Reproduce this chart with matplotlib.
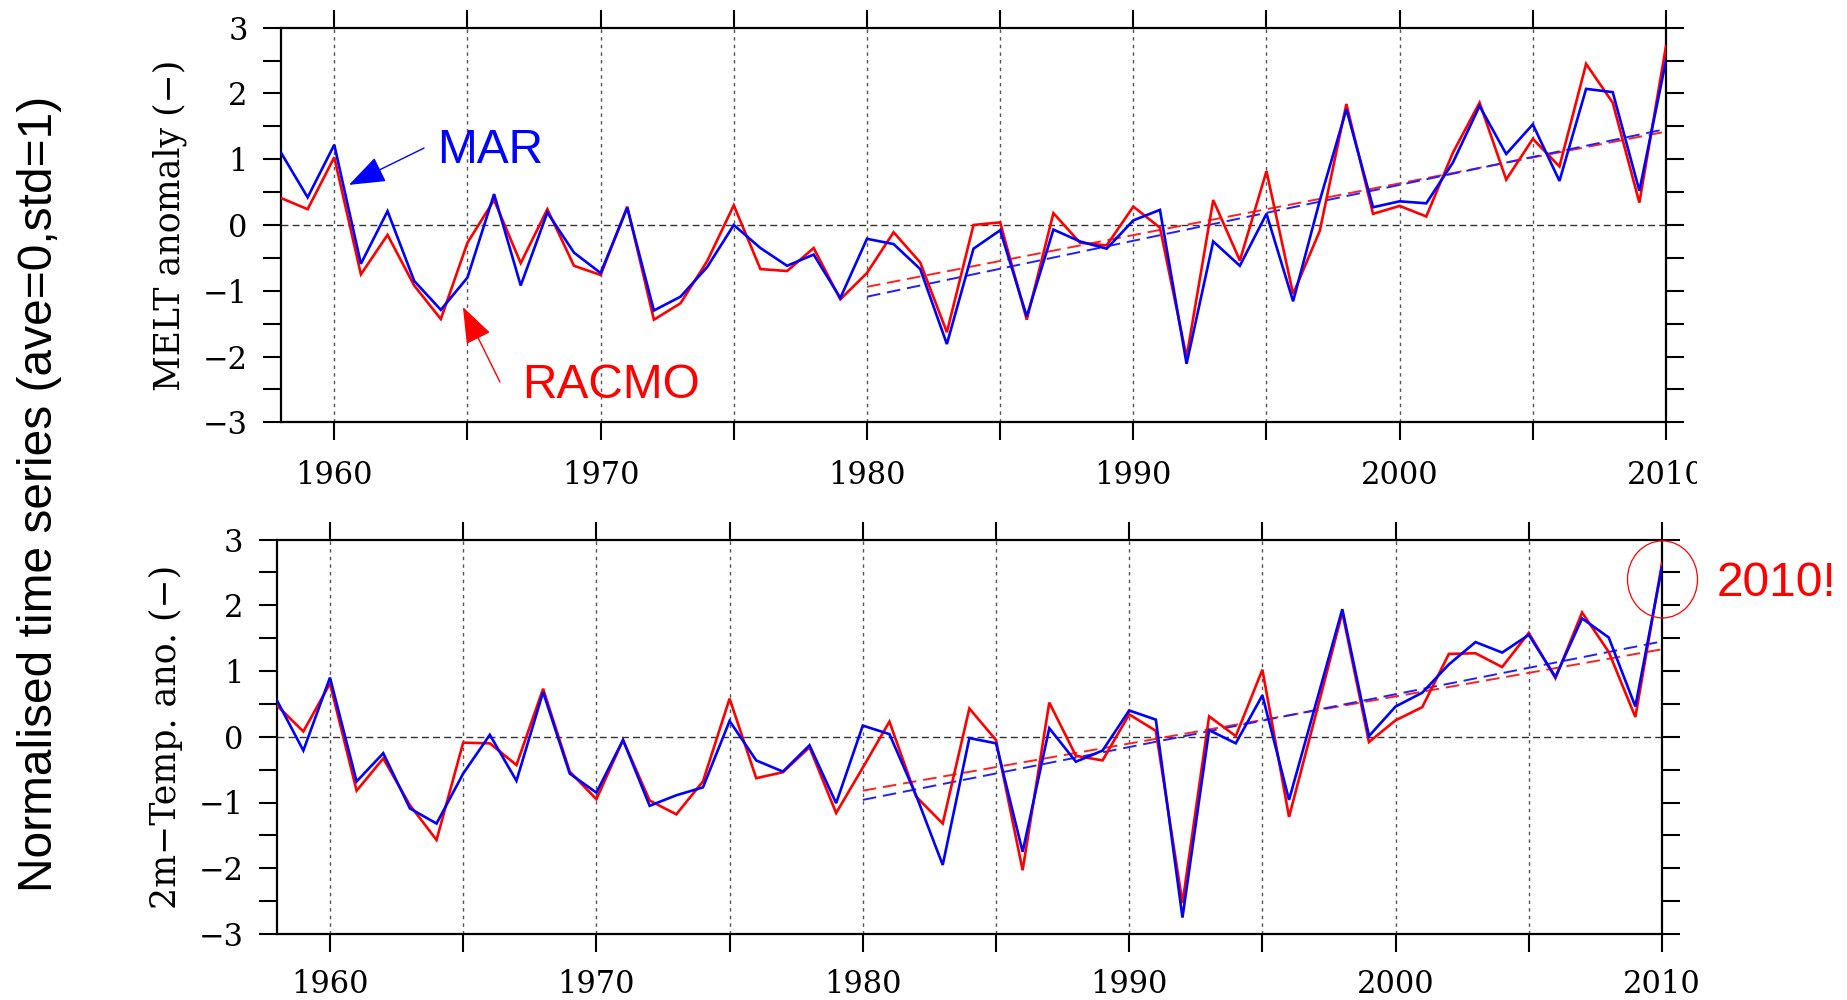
import matplotlib
matplotlib.use('Agg')
import matplotlib.pyplot as plt
import numpy as np
from matplotlib.patches import Ellipse
from matplotlib.transforms import Bbox, TransformedBbox

# ---------------- data ----------------
years = list(range(1958, 2011))

melt_mar = [1.10, 0.42, 1.22, -0.59, 0.21, -0.85, -1.29, -0.80, 0.47, -0.92,
            0.19, -0.42, -0.73, 0.26, -1.30, -1.09, -0.64, 0.00, -0.35, -0.62,
            -0.45, -1.11,
            -0.21, -0.29, -0.67, -1.81, -0.36, -0.08, -1.39, -0.07, -0.25, -0.36,
            0.07, 0.23, -2.11, -0.25, -0.62, 0.17, -1.16, 0.37, 1.76, 0.27,
            0.36, 0.33, 0.95, 1.81, 1.08, 1.53, 0.67, 2.07, 2.02, 0.52, 2.50]

melt_racmo = [0.41, 0.24, 1.03, -0.75, -0.15, -0.92, -1.43, -0.27, 0.38, -0.58,
              0.24, -0.62, -0.76, 0.28, -1.44, -1.19, -0.55, 0.30, -0.67, -0.70,
              -0.35, -1.13,
              -0.73, -0.11, -0.57, -1.63, 0.00, 0.04, -1.44, 0.18, -0.27, -0.31,
              0.28, -0.04, -2.01, 0.38, -0.54, 0.82, -1.05, -0.09, 1.84, 0.17,
              0.29, 0.13, 1.10, 1.86, 0.69, 1.31, 0.89, 2.45, 1.86, 0.34, 2.72]

temp_mar = [0.56, -0.21, 0.90, -0.68, -0.25, -1.09, -1.32, -0.56, 0.03, -0.67,
            0.68, -0.56, -0.85, -0.05, -1.05, -0.89, -0.77, 0.24, -0.36, -0.53,
            -0.13, -1.01,
            0.17, 0.04, -0.89, -1.95, -0.02, -0.10, -1.75, 0.13, -0.38, -0.21,
            0.40, 0.26, -2.75, 0.10, -0.10, 0.63, -0.96, 0.49, 1.94, 0.01,
            0.46, 0.67, 1.10, 1.44, 1.28, 1.55, 0.91, 1.80, 1.51, 0.46, 2.58]

temp_racmo = [0.48, 0.08, 0.81, -0.82, -0.33, -1.04, -1.57, -0.09, -0.10, -0.43,
              0.73, -0.53, -0.95, -0.05, -0.97, -1.18, -0.68, 0.58, -0.63, -0.54,
              -0.16, -1.16,
              -0.47, 0.23, -0.91, -1.32, 0.43, -0.05, -2.03, 0.52, -0.29, -0.36,
              0.34, 0.09, -2.53, 0.31, 0.01, 1.02, -1.22, 0.33, 1.89, -0.08,
              0.25, 0.45, 1.26, 1.27, 1.06, 1.58, 0.89, 1.89, 1.29, 0.30, 2.64]

trend_years = [1980, 2010]
melt_trend_racmo = [-0.94, 1.42]
melt_trend_mar = [-1.09, 1.46]
temp_trend_racmo = [-0.82, 1.33]
temp_trend_mar = [-0.96, 1.45]

xtick_years = list(range(1960, 2011, 5))
xlabel_years = list(range(1960, 2011, 10))
ytick_vals = list(np.arange(-3, 3.01, 0.5))

panel_ylabels = ['MELT anomaly (\u2212)', '2m\u2212Temp. ano. (\u2212)']
big_label = 'Normalised time series (ave=0,std=1)'

# ---------------- figure ----------------
W, H = 1847, 1000
fig = plt.figure(figsize=(W / 100, H / 100), dpi=100)
fig.patch.set_facecolor('white')

ax1 = fig.add_axes([281 / W, 1 - 422.3 / H, 1385 / W, 394.6 / H])
ax2 = fig.add_axes([276.7 / W, 1 - 934 / H, 1385.3 / W, 394.5 / H])

serif = 'DejaVu Serif'
sans = 'Liberation Sans'

panels = [(ax1, melt_racmo, melt_mar, melt_trend_racmo, melt_trend_mar, panel_ylabels[0]),
          (ax2, temp_racmo, temp_mar, temp_trend_racmo, temp_trend_mar, panel_ylabels[1])]

for ax, racmo, mar, tr_r, tr_m, ylab in panels:
    ax.set_facecolor('white')
    ax.set_xlim(1958, 2010)
    ax.set_ylim(-3, 3)
    # grid
    for yr in xtick_years[:-1]:
        ax.axvline(yr, color='#555555', lw=1.0, ls=(0, (2.5, 3.0)), zorder=1)
    ax.axhline(0, color='#333333', lw=1.0, ls=(0, (5, 3)), zorder=1)
    # trends
    ax.plot(trend_years, tr_r, color='#ff2020', lw=1.4, ls=(0, (7, 3.5)), zorder=2)
    ax.plot(trend_years, tr_m, color='#2020ff', lw=1.4, ls=(0, (7, 3.5)), zorder=2)
    # series
    ax.plot(years, racmo, color='#ff0000', lw=1.9, zorder=3, solid_joinstyle='miter')
    ax.plot(years, mar, color='#0000ff', lw=1.9, zorder=4, solid_joinstyle='miter')

    ax.set_xticks(xtick_years)
    ax.set_xticklabels([str(y) if y in xlabel_years else '' for y in xtick_years])
    ax.set_yticks(ytick_vals)
    ax.set_yticklabels(['\u2212%d' % (-v) if v < 0 and float(v).is_integer()
                        else ('%d' % v if float(v).is_integer() else '')
                        for v in ytick_vals])
    ax.tick_params(axis='both', direction='out', length=13, width=1.5,
                   top=True, right=True, labelsize=22, color='black')
    ax.tick_params(axis='y', pad=11)
    for lab in ax.get_xticklabels() + ax.get_yticklabels():
        lab.set_fontfamily(serif)
    for sp in ax.spines.values():
        sp.set_linewidth(1.6)
    ax.text(-0.0801, 0.5, ylab, transform=ax.transAxes, rotation=90,
            ha='center', va='center', fontsize=25, family=serif)

ax1.tick_params(axis='x', pad=14)
ax2.tick_params(axis='x', pad=12.5)

# clip the last label of the top panel like the reference crop
clip = TransformedBbox(Bbox([[0, 0], [1697 / W, 1]]), fig.transFigure)
for t in ax1.xaxis.get_major_ticks():
    t.label1.set_clip_box(clip)
    t.label1.set_clip_on(True)

# annotations on the top panel
ax1.annotate('', xy=(1960.55, 0.61), xytext=(1963.37, 1.17),
             arrowprops=dict(arrowstyle='-|>,head_length=2.3,head_width=0.85',
                             color='#0000ff', lw=1.0, shrinkA=0, shrinkB=0,
                             mutation_scale=10))
ax1.text(1963.86, 0.943, 'MAR', color='#0000ff', fontsize=34.5, family=sans,
         ha='left', va='baseline')
ax1.annotate('', xy=(1964.83, -1.247), xytext=(1966.22, -2.387),
             arrowprops=dict(arrowstyle='-|>,head_length=2.3,head_width=0.85',
                             color='#ff0000', lw=1.0, shrinkA=0, shrinkB=0,
                             mutation_scale=10))
ax1.text(1967.05, -2.63, 'RACMO', color='#ff0000', fontsize=34.5, family=sans,
         ha='left', va='baseline')

# 2010 highlight
fig.add_artist(Ellipse((1662.5 / W, 1 - 579.4 / H), 70 / W, 77 / H,
                       transform=fig.transFigure, fill=False,
                       edgecolor='#ff0000', lw=0.9))
fig.text(1717 / W, 1 - 596 / H, '2010!', color='#ff0000', fontsize=34.5,
         family=sans, ha='left', va='baseline')

fig.text(40 / W, 1 - 494 / H, big_label, rotation=90, ha='center', va='center',
         fontsize=34.5, family=sans)

fig.savefig('out.png', dpi=100)
